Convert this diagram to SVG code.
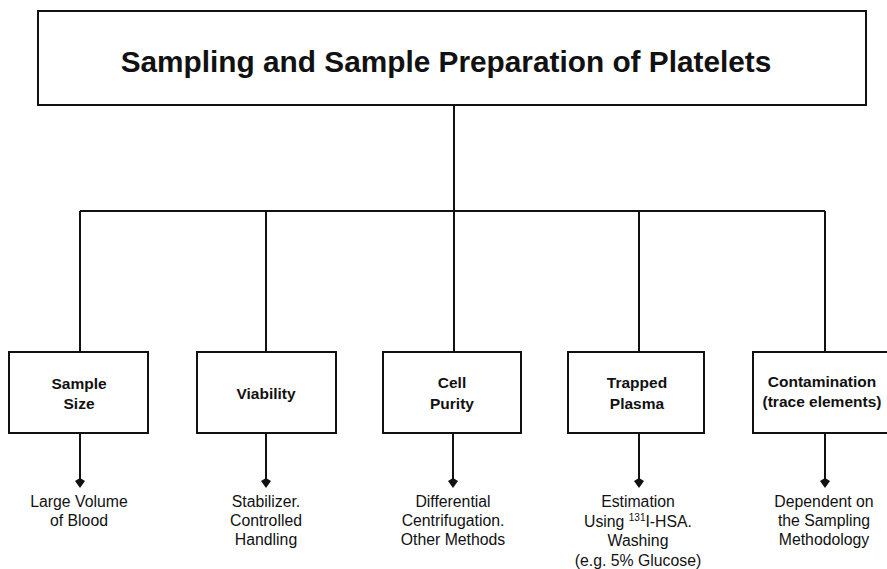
<svg xmlns="http://www.w3.org/2000/svg" width="887" height="569" viewBox="0 0 887 569">
  <style>
    .box { fill: #ffffff; stroke: #111111; stroke-width: 2; }
    .wire { fill: none; stroke: #111111; stroke-width: 2; }
    .tip { fill: #111111; }
    .title { font-family: "Liberation Sans", Arial, sans-serif; font-weight: bold; font-size: 29.8px; fill: #111111; text-anchor: middle; }
    .head { font-family: "Liberation Sans", Arial, sans-serif; font-weight: bold; font-size: 15.5px; fill: #111111; text-anchor: middle; }
    .note { font-family: "Liberation Sans", Arial, sans-serif; font-size: 15.8px; fill: #111111; text-anchor: middle; }
  </style>
  <rect width="887" height="569" fill="#ffffff"/>

  <!-- connectors: trunk, bus, drops and outcome arrows -->
  <g id="connectors">
    <path class="wire" d="M454,105 V211 M80,211 H825 M80,211 V352 M266,211 V352 M454,211 V352 M639,211 V352 M825,211 V352"/>
    <path class="wire" d="M80,433 V484 M266,433 V484 M453,433 V484 M639,433 V484 M825,433 V484"/>
    <path class="tip" d="M80,488 L75,481 L80,478 L85,481 Z"/>
    <path class="tip" d="M266,488 L261,481 L266,478 L271,481 Z"/>
    <path class="tip" d="M453,488 L448,481 L453,478 L458,481 Z"/>
    <path class="tip" d="M639,488 L634,481 L639,478 L644,481 Z"/>
    <path class="tip" d="M825,488 L820,481 L825,478 L830,481 Z"/>
  </g>

  <!-- root -->
  <g id="root">
    <rect class="box" x="38" y="11" width="828" height="94"/>
    <text class="title" x="446" y="72">Sampling and Sample Preparation of Platelets</text>
  </g>

  <!-- categories -->
  <g id="sample-size">
    <rect class="box" x="9" y="352" width="139" height="81"/>
    <text class="head" x="79" y="389">Sample</text>
    <text class="head" x="79" y="409">Size</text>
  </g>
  <g id="viability">
    <rect class="box" x="197" y="352" width="139" height="81"/>
    <text class="head" x="266" y="399">Viability</text>
  </g>
  <g id="cell-purity">
    <rect class="box" x="383" y="352" width="138" height="81"/>
    <text class="head" x="452" y="388">Cell</text>
    <text class="head" x="452" y="409">Purity</text>
  </g>
  <g id="trapped-plasma">
    <rect class="box" x="568" y="352" width="136" height="81"/>
    <text class="head" x="637" y="388">Trapped</text>
    <text class="head" x="637" y="409">Plasma</text>
  </g>
  <g id="contamination">
    <rect class="box" x="753" y="352" width="140" height="81"/>
    <text class="head" x="822" y="387">Contamination</text>
    <text class="head" x="822" y="407">(trace elements)</text>
  </g>

  <!-- outcomes -->
  <g id="sample-size-note">
    <text class="note" x="79" y="507">Large Volume</text>
    <text class="note" x="79" y="526">of Blood</text>
  </g>
  <g id="viability-note">
    <text class="note" x="266" y="507">Stabilizer.</text>
    <text class="note" x="266" y="526">Controlled</text>
    <text class="note" x="266" y="545">Handling</text>
  </g>
  <g id="cell-purity-note">
    <text class="note" x="453" y="507">Differential</text>
    <text class="note" x="453" y="526">Centrifugation.</text>
    <text class="note" x="453" y="545">Other Methods</text>
  </g>
  <g id="trapped-plasma-note">
    <text class="note" x="638" y="507">Estimation</text>
    <text class="note" x="638" y="527">Using <tspan font-size="10" dy="-6">131</tspan><tspan dy="6">I-HSA.</tspan></text>
    <text class="note" x="638" y="546">Washing</text>
    <text class="note" x="638" y="566">(e.g. 5% Glucose)</text>
  </g>
  <g id="contamination-note">
    <text class="note" x="824" y="507">Dependent on</text>
    <text class="note" x="824" y="526">the Sampling</text>
    <text class="note" x="824" y="545">Methodology</text>
  </g>
</svg>
